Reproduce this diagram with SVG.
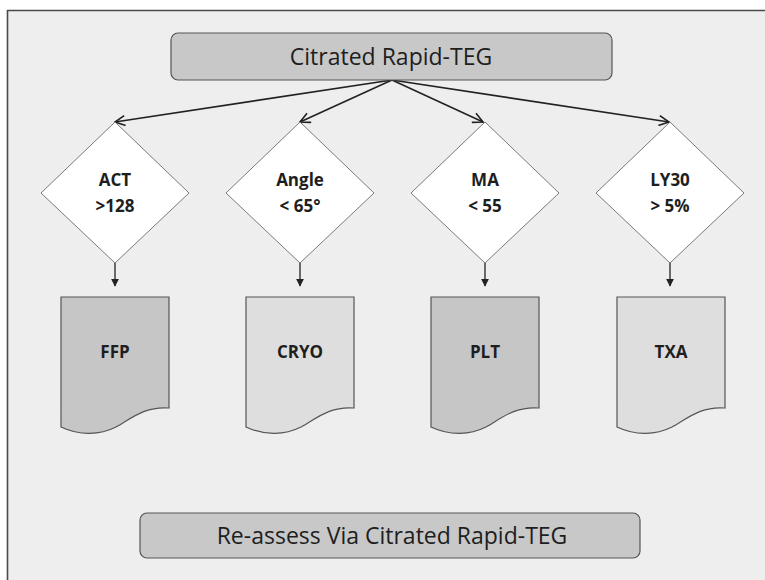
<svg xmlns="http://www.w3.org/2000/svg" width="765" height="580" viewBox="0 0 765 580">
<defs>
<style>
.frame{fill:#eeeeee;stroke:#4a4a4a;stroke-width:1.6}
.box{fill:#c8c8c8;stroke:#555;stroke-width:1.2}
.dia{fill:#ffffff;stroke:#7a7a7a;stroke-width:1}
.docd{fill:#c6c6c6;stroke:#555;stroke-width:1.2}
.docl{fill:#dedede;stroke:#555;stroke-width:1.2}
.big{font-family:"Open Sans","Liberation Sans",sans-serif;font-size:23px;fill:#1e1e1e;text-anchor:middle}
.lbl{font-family:"Open Sans","Liberation Sans",sans-serif;font-size:17px;font-weight:bold;fill:#1e1e1e;text-anchor:middle}
.con{fill:none;stroke:#222;stroke-width:1.6}
.con2{fill:none;stroke:#222;stroke-width:1.3}
</style>
<marker id="open" viewBox="0 0 12 12" refX="11" refY="6" markerWidth="12" markerHeight="12" markerUnits="userSpaceOnUse" orient="auto">
<path d="M1,1 L11,6 L1,11" fill="none" stroke="#222" stroke-width="1.6"/>
</marker>
<marker id="tri" viewBox="0 0 10 10" refX="9" refY="5" markerWidth="8" markerHeight="8" markerUnits="userSpaceOnUse" orient="auto">
<path d="M0,0 L10,5 L0,10 Z" fill="#222"/>
</marker>
</defs>
<rect x="0" y="0" width="765" height="580" fill="#ffffff"/>
<path class="frame" d="M7.5,590 V10.5 H775 V590 Z"/>

<g id="connectors">
<line class="con" x1="392" y1="80" x2="115" y2="122" marker-end="url(#open)"/>
<line class="con" x1="392" y1="80" x2="300" y2="122" marker-end="url(#open)"/>
<line class="con" x1="392" y1="80" x2="483" y2="122" marker-end="url(#open)"/>
<line class="con" x1="392" y1="80" x2="669" y2="122" marker-end="url(#open)"/>
<line class="con2" x1="115" y1="263" x2="115" y2="286" marker-end="url(#tri)"/>
<line class="con2" x1="300" y1="263" x2="300" y2="286" marker-end="url(#tri)"/>
<line class="con2" x1="485" y1="263" x2="485" y2="286" marker-end="url(#tri)"/>
<line class="con2" x1="670" y1="263" x2="670" y2="286" marker-end="url(#tri)"/>
</g>

<g id="top">
<rect class="box" x="171" y="33" width="441" height="47" rx="7"/>
<text class="big" x="391" y="65">Citrated Rapid-TEG</text>
</g>

<g id="d-act">
<path class="dia" d="M115,122 L189,193 L115,263 L41,193 Z"/>
<text class="lbl" x="115" y="186">ACT</text>
<text class="lbl" x="115" y="212">&gt;128</text>
</g>
<g id="d-angle">
<path class="dia" d="M300,122 L374,193 L300,263 L226,193 Z"/>
<text class="lbl" x="300" y="186">Angle</text>
<text class="lbl" x="300" y="212">&lt; 65°</text>
</g>
<g id="d-ma">
<path class="dia" d="M485,122 L559,193 L485,263 L411,193 Z"/>
<text class="lbl" x="485" y="186">MA</text>
<text class="lbl" x="485" y="212">&lt; 55</text>
</g>
<g id="d-ly30">
<path class="dia" d="M670,122 L744,193 L670,263 L596,193 Z"/>
<text class="lbl" x="670" y="186">LY30</text>
<text class="lbl" x="670" y="212">&gt; 5%</text>
</g>

<g id="ffp">
<path class="docd" d="M61,297 H169 V408 C145,406 132,418 116,427 C100,435 80,436 61,427 Z"/>
<text class="lbl" x="115" y="358">FFP</text>
</g>
<g id="cryo">
<path class="docl" d="M246,297 H354 V408 C330,406 317,418 301,427 C285,435 265,436 246,427 Z"/>
<text class="lbl" x="300" y="358">CRYO</text>
</g>
<g id="plt">
<path class="docd" d="M431,297 H539 V408 C515,406 502,418 486,427 C470,435 450,436 431,427 Z"/>
<text class="lbl" x="485" y="358">PLT</text>
</g>
<g id="txa">
<path class="docl" d="M617,297 H725 V408 C701,406 688,418 672,427 C656,435 636,436 617,427 Z"/>
<text class="lbl" x="671" y="358">TXA</text>
</g>

<g id="bottom">
<rect class="box" x="140" y="513" width="500" height="45" rx="7"/>
<text class="big" x="392" y="544">Re-assess Via Citrated Rapid-TEG</text>
</g>
</svg>
